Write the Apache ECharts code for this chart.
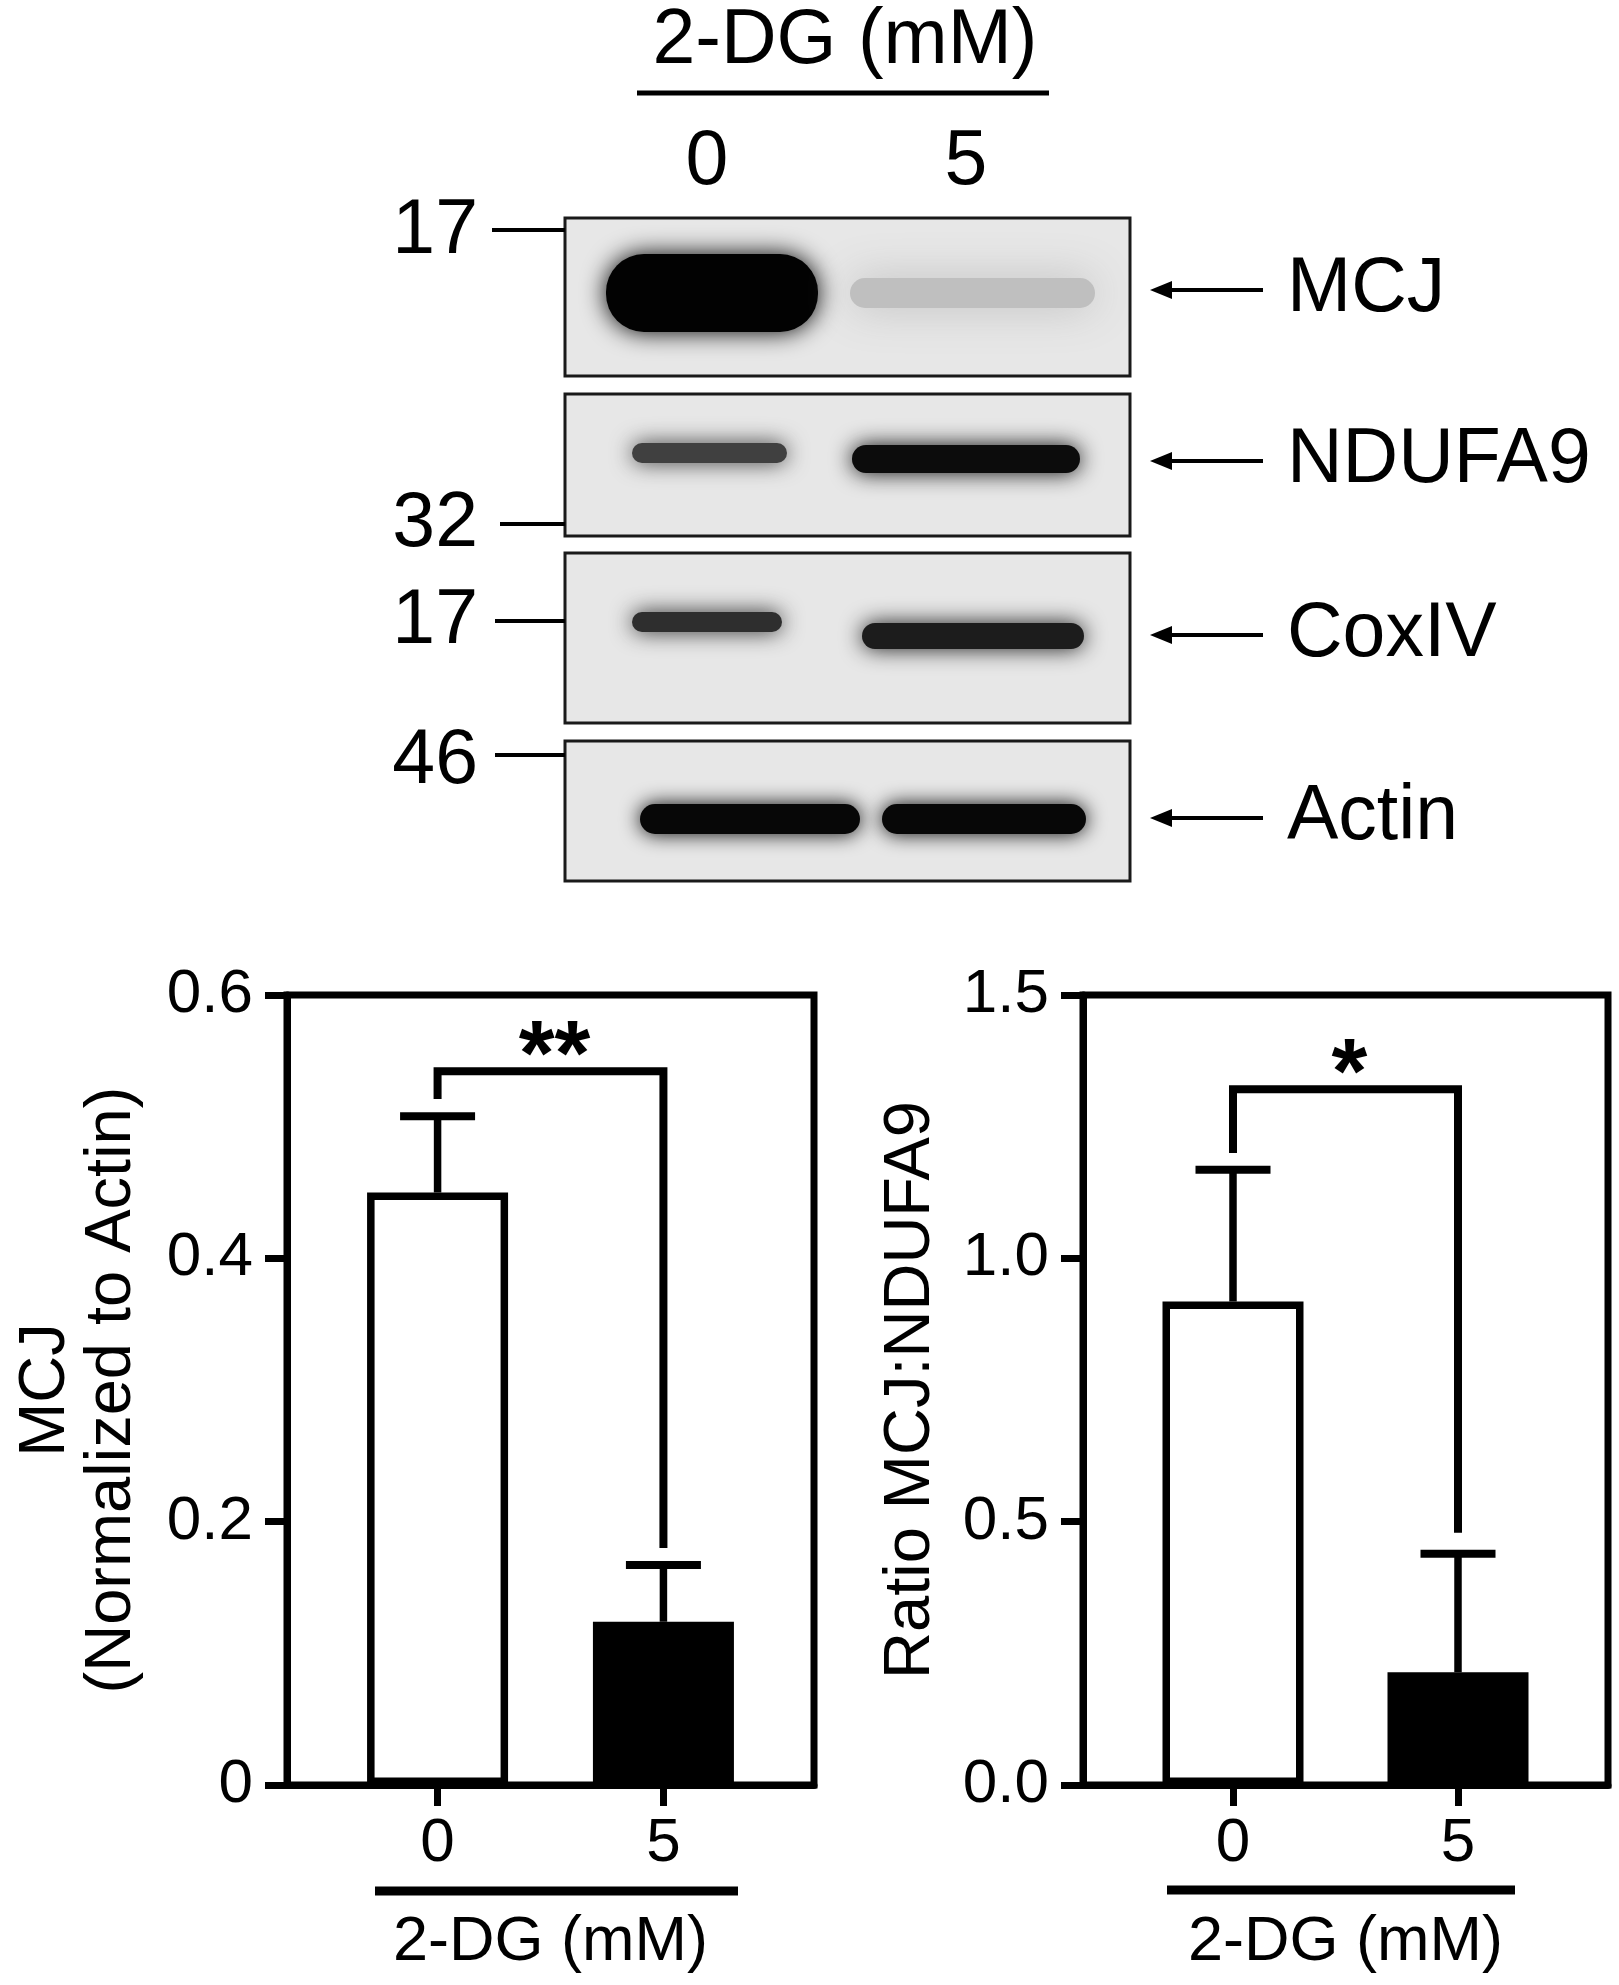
<!DOCTYPE html>
<html><head><meta charset="utf-8">
<script src="https://cdn.jsdelivr.net/npm/echarts@6/dist/echarts.min.js"></script>
<style>html,body{margin:0;padding:0;background:#fff}#c{width:1619px;height:1985px}</style>
</head><body><div id="c"></div>
<script>
// ---------------- data ----------------
const doseCategories = ['0', '5'];            // 2-DG (mM)
const mcjActinMean = [0.45, 0.124];
const mcjActinSem = [0.058, 0.043];
const ratioMean = [0.918, 0.214];
const ratioSem = [0.25, 0.225];
const leftTickLabels = ['0', '0.2', '0.4', '0.6'];
const rightTickLabels = ['0.0', '0.5', '1.0', '1.5'];
const leftBracket = [0.542, 0.521, 0.18];     // top, left leg end, right leg end
const rightBracket = [1.321, 1.20, 0.479];
const leftSig = '**';
const rightSig = '*';
const blotProteins = ['MCJ', 'NDUFA9', 'CoxIV', 'Actin'];
const blotMarkers = ['17', '32', '17', '46'];
const bandDensity = [[0.99, 0.17], [0.72, 0.95], [0.8, 0.88], [0.97, 0.97]];

// ---------------- layout ----------------
const FONT = "'Liberation Sans', Arial, Helvetica, sans-serif";
const G = [{left: 287, top: 995, width: 527, height: 790}, {left: 1083, top: 995, width: 525, height: 790}];
const AX = 7;

function errRender(params, api) {
  const x = api.value(0), m = api.value(1), h = api.value(2);
  const p0 = api.coord([x, m]), p1 = api.coord([x, h]);
  const cap = 37.5;
  return {type: 'group', children: [
    {type: 'line', shape: {x1: p0[0], y1: p0[1], x2: p1[0], y2: p1[1]}, style: {stroke: '#000', lineWidth: 7.5}},
    {type: 'line', shape: {x1: p1[0] - cap, y1: p1[1], x2: p1[0] + cap, y2: p1[1]}, style: {stroke: '#000', lineWidth: 8}}
  ]};
}
function bracketRender(sig) {
  return function (params, api) {
    const top = api.value(0), le = api.value(1), re = api.value(2);
    const a0 = api.coord([0, le]), a1 = api.coord([0, top]), b1 = api.coord([1, top]), b0 = api.coord([1, re]);
    return {type: 'group', children: [
      {type: 'polyline', shape: {points: [a0, a1, b1, b0]}, style: {stroke: '#000', lineWidth: 8, fill: null, lineJoin: 'miter'}},
      {type: 'text', x: (a1[0] + b1[0]) / 2 + 4, y: a1[1] - 12,
       style: {text: sig, fontSize: 92, fontWeight: 'bold', fontFamily: FONT, fill: '#000',
               textAlign: 'center', align: 'center', textVerticalAlign: 'middle', verticalAlign: 'middle'}}
    ]};
  };
}
function xAxisCfg(gi) {
  return {
    type: 'value', gridIndex: gi, min: -2 / 3, max: 5 / 3,
    axisLine: {show: true, onZero: false, lineStyle: {color: '#000', width: AX}},
    axisTick: {show: true, customValues: [0, 1], length: 21, lineStyle: {color: '#000', width: AX}},
    axisLabel: {show: true, customValues: [0, 1], formatter: v => doseCategories[Math.round(v)],
                fontSize: 62, color: '#000', margin: 28, fontFamily: FONT},
    splitLine: {show: false},
    name: '2-DG (mM)', nameLocation: 'middle', nameGap: 126,
    nameTextStyle: {fontSize: 63, color: '#000', fontFamily: FONT}
  };
}
function yAxisCfg(gi, max, interval, labels, name, gap) {
  return {
    type: 'value', gridIndex: gi, min: 0, max: max, interval: interval,
    axisLine: {show: true, onZero: false, lineStyle: {color: '#000', width: AX}},
    axisTick: {show: true, length: 22, lineStyle: {color: '#000', width: AX}},
    axisLabel: {formatter: v => labels[Math.round(v / interval)], fontSize: 62, color: '#000', margin: 34, fontFamily: FONT},
    splitLine: {show: false},
    name: name, nameLocation: 'middle', nameRotate: 90, nameGap: gap,
    nameTextStyle: {fontSize: 65, lineHeight: 66, color: '#000', fontFamily: FONT}
  };
}
function barData(means) {
  return means.map((v, i) => ({value: [i, v], itemStyle: {color: i ? '#000' : '#fff', borderColor: '#000', borderWidth: 7.5}}));
}

// ---------------- blot (decorative graphic) ----------------
const BX0 = 565, BX1 = 1130;
const panels = [[218, 376], [394, 536], [553, 723], [741, 881]];
// [x, y, w, h, radius, blur] per lane
const bandBoxes = [
  [[606, 254, 212, 78, 38, 24], [850, 278, 245, 30, 15, 44]],
  [[632, 443, 155, 20, 10, 22], [852, 445, 228, 28, 14, 22]],
  [[632, 612, 150, 20, 10, 22], [862, 623, 222, 26, 13, 22]],
  [[640, 804, 220, 30, 15, 20], [882, 804, 204, 30, 15, 20]]
];
const arrowY = [290, 461, 635, 818];
const markerLine = [[492, 230], [500, 524], [495, 621], [495, 755]];
const markerTextY = [232, 525, 622, 762];
const SX = 1.0, BF = 77;

const graphics = [];
function gtext(x, y, text, align, size) {
  graphics.push({type: 'text', x: x, y: y, scaleX: SX, silent: true,
    style: {text: text, x: 0, y: 0, fontSize: size || BF, fontFamily: FONT, fill: '#000',
            textAlign: align, align: align, textVerticalAlign: 'middle', verticalAlign: 'middle'}});
}
gtext(845, 42, '2-DG (mM)', 'center');
graphics.push({type: 'line', shape: {x1: 637, y1: 93, x2: 1049, y2: 93}, style: {stroke: '#000', lineWidth: 5}});
gtext(707, 163, doseCategories[0], 'center');
gtext(966, 163, doseCategories[1], 'center');
panels.forEach((p, k) => {
  graphics.push({type: 'rect', shape: {x: BX0, y: p[0], width: BX1 - BX0, height: p[1] - p[0]},
                 style: {fill: '#e7e7e7', stroke: '#1a1a1a', lineWidth: 3}});
  bandBoxes[k].forEach((b, lane) => {
    const g = Math.round(230 * (1 - bandDensity[k][lane]));
    const col = 'rgb(' + g + ',' + g + ',' + g + ')';
    graphics.push({type: 'rect', shape: {x: b[0], y: b[1], width: b[2], height: b[3], r: b[4]},
                   style: {fill: col, shadowBlur: b[5], shadowColor: col}});
  });
  // molecular weight marker
  const ml = markerLine[k];
  graphics.push({type: 'line', shape: {x1: ml[0], y1: ml[1], x2: BX0, y2: ml[1]}, style: {stroke: '#000', lineWidth: 4}});
  gtext(478, markerTextY[k], blotMarkers[k], 'right');
  // arrow + label
  const ay = arrowY[k];
  graphics.push({type: 'line', shape: {x1: 1166, y1: ay, x2: 1263, y2: ay}, style: {stroke: '#000', lineWidth: 4}});
  graphics.push({type: 'polygon', shape: {points: [[1150, ay], [1172, ay - 9], [1172, ay + 9]]}, style: {fill: '#000'}});
  gtext(1287, ay, blotProteins[k], 'left');
});
// underlines for x-axis titles
graphics.push({type: 'line', shape: {x1: G[0].left + 88, y1: 1891, x2: G[0].left + 451, y2: 1891}, style: {stroke: '#000', lineWidth: 9}});
graphics.push({type: 'line', shape: {x1: G[1].left + 84, y1: 1890, x2: G[1].left + 432, y2: 1890}, style: {stroke: '#000', lineWidth: 9}});

// ---------------- chart ----------------
const chart = echarts.init(document.getElementById('c'), null, {renderer: 'canvas'});
chart.setOption({
  animation: false,
  backgroundColor: '#fff',
  textStyle: {fontFamily: FONT},
  grid: G.map(g => Object.assign({show: true, borderColor: '#000', borderWidth: AX, backgroundColor: 'transparent', containLabel: false}, g)),
  xAxis: [xAxisCfg(0), xAxisCfg(1)],
  yAxis: [
    yAxisCfg(0, 0.6, 0.2, leftTickLabels, 'MCJ\n(Normalized to Actin)', 142),
    yAxisCfg(1, 1.5, 0.5, rightTickLabels, 'Ratio MCJ:NDUFA9', 139)
  ],
  series: [
    {type: 'bar', xAxisIndex: 0, yAxisIndex: 0, barWidth: 141, data: barData(mcjActinMean), z: 3},
    {type: 'custom', xAxisIndex: 0, yAxisIndex: 0, renderItem: errRender, encode: {x: 0, y: 1}, z: 2,
     data: mcjActinMean.map((v, i) => [i, v, v + mcjActinSem[i]])},
    {type: 'custom', xAxisIndex: 0, yAxisIndex: 0, renderItem: bracketRender(leftSig), encode: {y: 0}, z: 4,
     data: [leftBracket]},
    {type: 'bar', xAxisIndex: 1, yAxisIndex: 1, barWidth: 141, data: barData(ratioMean), z: 3},
    {type: 'custom', xAxisIndex: 1, yAxisIndex: 1, renderItem: errRender, encode: {x: 0, y: 1}, z: 2,
     data: ratioMean.map((v, i) => [i, v, v + ratioSem[i]])},
    {type: 'custom', xAxisIndex: 1, yAxisIndex: 1, renderItem: bracketRender(rightSig), encode: {y: 0}, z: 4,
     data: [rightBracket]}
  ],
  graphic: graphics
});
</script>
</body></html>
